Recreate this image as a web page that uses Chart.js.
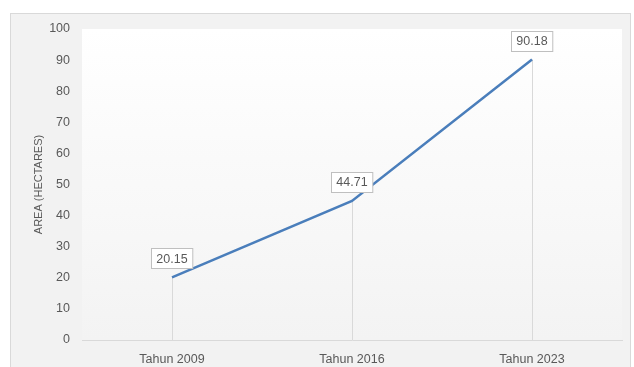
<!DOCTYPE html>
<html>
<head>
<meta charset="utf-8">
<script src="https://cdn.jsdelivr.net/npm/chart.js@4.4.0/dist/chart.umd.min.js"></script>
<style>
    html, body { margin: 0; padding: 0; background: #ffffff; }
    #wrap { position: relative; width: 634px; height: 367px; }
</style>
</head>
<body>
<div id="wrap"><canvas id="areaChart" width="634" height="367"></canvas></div>
<script>
const years = ['Tahun 2009', 'Tahun 2016', 'Tahun 2023'];
const areaValues = [20.15, 44.71, 90.18];
const yTicks = [0, 10, 20, 30, 40, 50, 60, 70, 80, 90, 100];

const FONT = '"Liberation Sans", Arial, sans-serif';
const TEXT = '#595959';

// outer frame + plot area gradient
const backdrop = {
    id: 'backdrop',
    beforeDraw(chart) {
        const { ctx, chartArea: a } = chart;
        ctx.save();
        ctx.fillStyle = '#f2f2f2';
        ctx.fillRect(10, 13, 620, 354);
        ctx.strokeStyle = '#d9d9d9';
        ctx.lineWidth = 1;
        ctx.strokeRect(10.5, 13.5, 620, 354);
        const g = ctx.createLinearGradient(0, a.top, 0, a.bottom);
        g.addColorStop(0, '#ffffff');
        g.addColorStop(1, '#f3f3f3');
        ctx.fillStyle = g;
        ctx.fillRect(a.left, a.top, a.right - a.left, a.bottom - a.top);
        ctx.restore();
    }
};

// drop lines from each point to the axis
const dropLines = {
    id: 'dropLines',
    beforeDatasetsDraw(chart) {
        const { ctx, chartArea: a } = chart;
        const meta = chart.getDatasetMeta(0);
        ctx.save();
        ctx.strokeStyle = '#d9d9d9';
        ctx.lineWidth = 1;
        meta.data.forEach(pt => {
            const x = Math.round(pt.x) + 0.5;
            ctx.beginPath();
            ctx.moveTo(x, pt.y);
            ctx.lineTo(x, a.bottom);
            ctx.stroke();
        });
        ctx.restore();
    }
};

// boxed value labels above the points
const valueBoxes = {
    id: 'valueBoxes',
    afterDatasetsDraw(chart) {
        const { ctx } = chart;
        const meta = chart.getDatasetMeta(0);
        ctx.save();
        ctx.font = '12.5px ' + FONT;
        ctx.textAlign = 'center';
        ctx.textBaseline = 'middle';
        meta.data.forEach((pt, i) => {
            const label = areaValues[i].toFixed(2);
            const w = ctx.measureText(label).width + 10;
            const h = 20;
            const cx = pt.x;
            const cy = pt.y - 19;
            const x0 = Math.round(cx - w / 2) + 0.5;
            const y0 = Math.round(cy - h / 2) + 0.5;
            ctx.fillStyle = '#ffffff';
            ctx.fillRect(x0, y0, w, h);
            ctx.strokeStyle = '#bfbfbf';
            ctx.lineWidth = 1;
            ctx.strokeRect(x0, y0, w, h);
            ctx.fillStyle = TEXT;
            ctx.fillText(label, cx, cy + 1);
        });
        ctx.restore();
    }
};

new Chart(document.getElementById('areaChart').getContext('2d'), {
    type: 'line',
    data: {
        labels: years,
        datasets: [{
            label: 'Area',
            data: areaValues,
            borderColor: '#4a7ebb',
            borderWidth: 2.5,
            pointRadius: 0,
            tension: 0,
            fill: false
        }]
    },
    options: {
        responsive: false,
        animation: false,
        layout: { padding: { left: 32, top: 29, right: 12, bottom: 0 } },
        plugins: {
            legend: { display: false },
            tooltip: { enabled: false }
        },
        scales: {
            x: {
                offset: true,
                grid: { display: false },
                border: { display: true, color: '#d9d9d9', width: 1 },
                ticks: { color: TEXT, font: { family: FONT, size: 12.5 }, padding: 4 },
                afterFit: s => { s.height = 27; }
            },
            y: {
                min: 0,
                max: 100,
                afterBuildTicks: s => { s.ticks = yTicks.map(v => ({ value: v })); },
                grid: { display: false },
                border: { display: false },
                ticks: { color: TEXT, font: { family: FONT, size: 12.5 }, padding: 4 },
                title: {
                    display: true,
                    text: 'AREA (HECTARES)',
                    color: TEXT,
                    font: { family: FONT, size: 11 },
                    padding: { top: 0, bottom: 0 }
                },
                afterFit: s => { s.width = 50; }
            }
        }
    },
    plugins: [backdrop, dropLines, valueBoxes]
});
</script>
</body>
</html>
